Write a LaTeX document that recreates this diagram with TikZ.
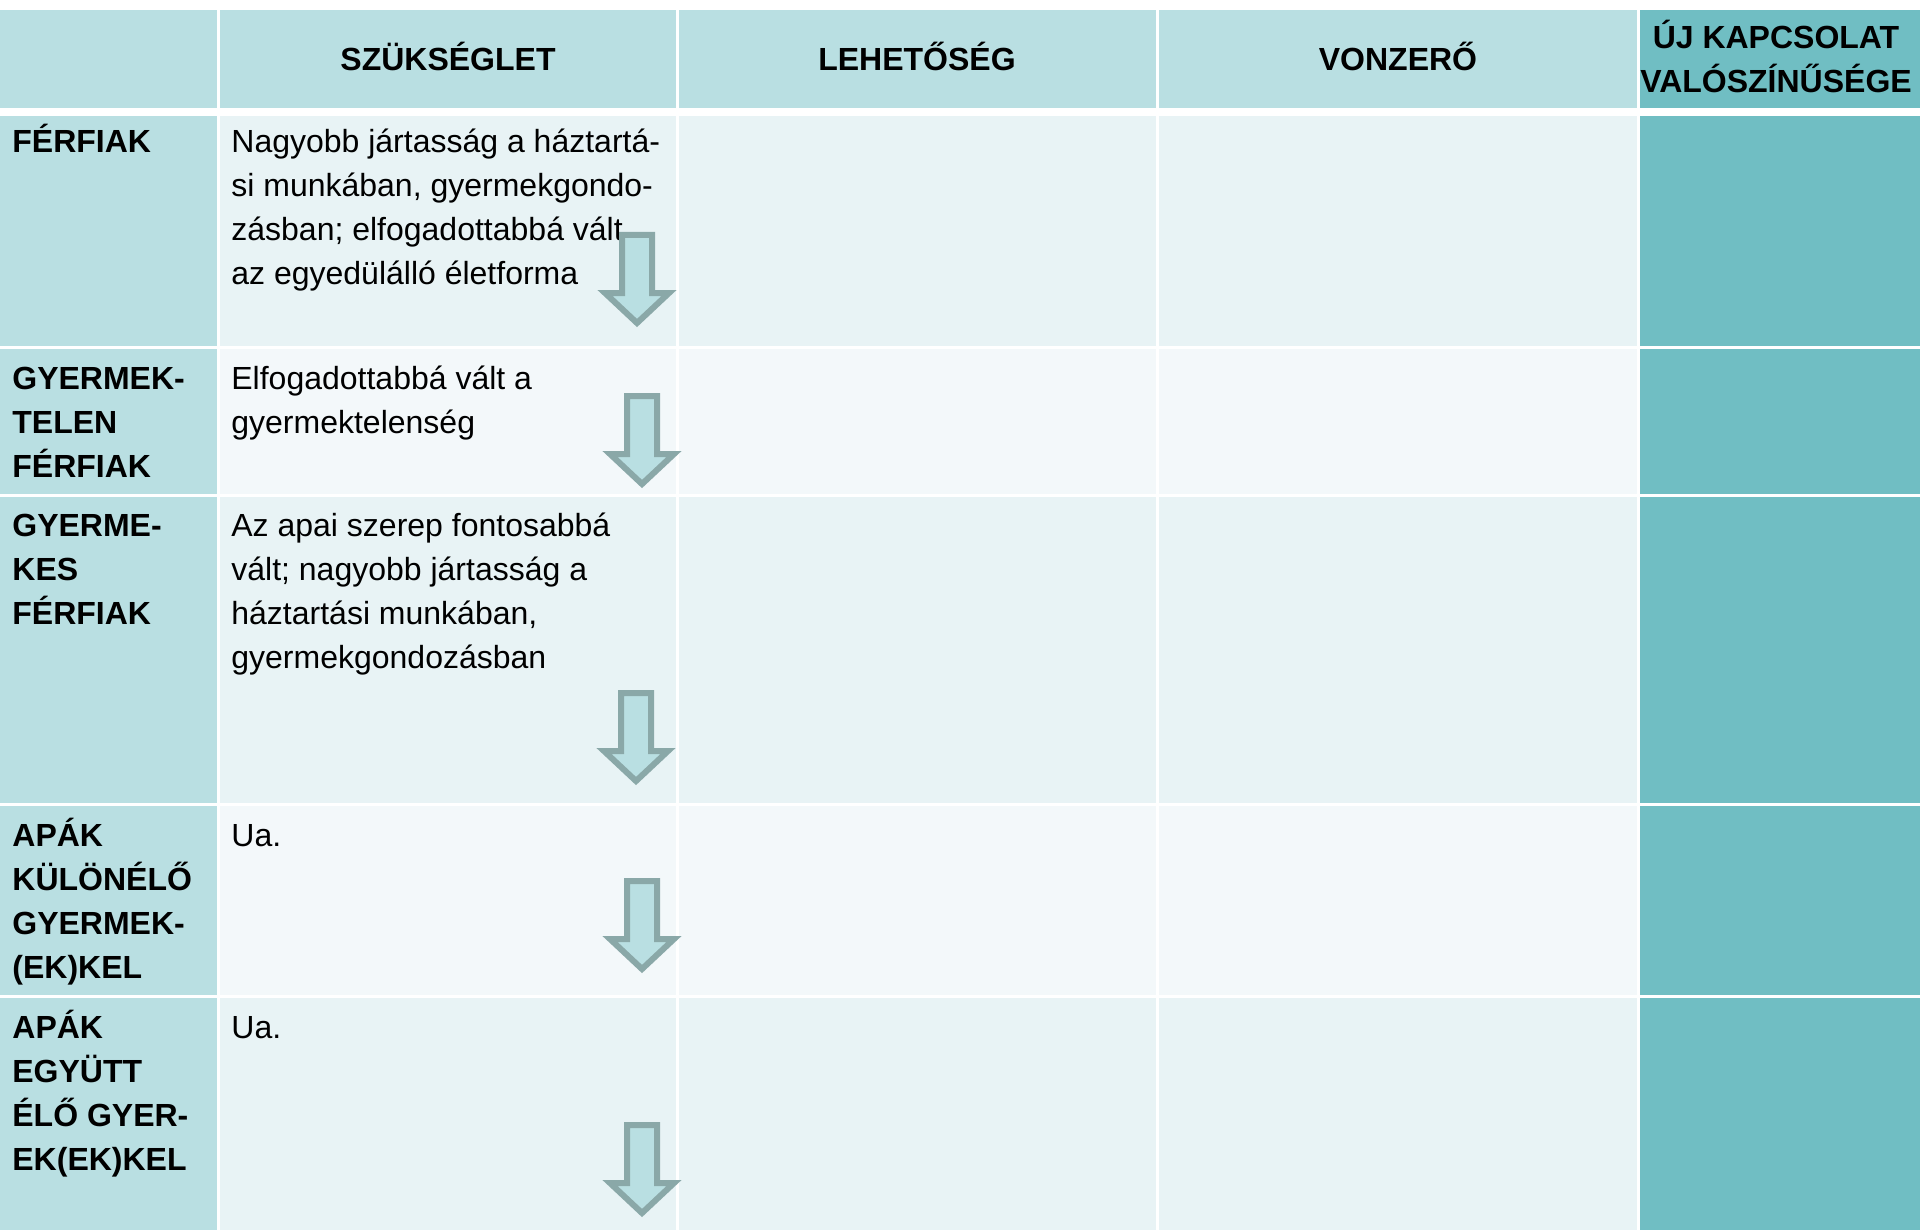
\documentclass[tikz,border=0pt]{standalone}
\usepackage{fontspec}
\setmainfont{Liberation Sans}
\definecolor{headfill}{HTML}{B9DFE2}
\definecolor{rowdark}{HTML}{E8F3F5}
\definecolor{rowlight}{HTML}{F3F8FA}
\definecolor{lastcol}{HTML}{70BEC3}
\definecolor{arrowedge}{HTML}{8AA8A8}
\newcommand{\cellrows}[2][l]{\begin{tabular}[t]{@{}#1@{}}#2\end{tabular}}

\begin{document}
\begin{tikzpicture}[x=0.5pt, y=-0.5pt,
    cell/.style={font=\fontsize{16}{22}\selectfont, anchor=base west, inner sep=0pt},
    rowhead/.style={cell, font=\fontsize{16}{22}\selectfont\bfseries},
    colhead/.style={font=\fontsize{16}{22}\selectfont\bfseries, anchor=base, inner sep=0pt},
    arrowline/.style={draw=arrowedge, fill=headfill, line width=3pt},
    downarrow/.pic={\path[arrowline] (-15,3) -- (15,3) -- (15,61) -- (32,61) -- (0,91) -- (-32,61) -- (-15,61) -- cycle;}
]
    \useasboundingbox (0,0) rectangle (1920,1230);

    % Header row
    \fill[headfill] (0,10) rectangle (217,108);
    \fill[headfill] (220,10) rectangle (676,108);
    \fill[headfill] (679,10) rectangle (1156,108);
    \fill[headfill] (1159,10) rectangle (1637,108);
    \fill[lastcol] (1640,10) rectangle (1920,108);

    % Body cells
    \fill[headfill] (0,116) rectangle (217,346);
    \fill[rowdark] (220,116) rectangle (676,346);
    \fill[rowdark] (679,116) rectangle (1156,346);
    \fill[rowdark] (1159,116) rectangle (1637,346);
    \fill[lastcol] (1640,116) rectangle (1920,346);

    \fill[headfill] (0,349) rectangle (217,494);
    \fill[rowlight] (220,349) rectangle (676,494);
    \fill[rowlight] (679,349) rectangle (1156,494);
    \fill[rowlight] (1159,349) rectangle (1637,494);
    \fill[lastcol] (1640,349) rectangle (1920,494);

    \fill[headfill] (0,497) rectangle (217,803);
    \fill[rowdark] (220,497) rectangle (676,803);
    \fill[rowdark] (679,497) rectangle (1156,803);
    \fill[rowdark] (1159,497) rectangle (1637,803);
    \fill[lastcol] (1640,497) rectangle (1920,803);

    \fill[headfill] (0,806) rectangle (217,995);
    \fill[rowlight] (220,806) rectangle (676,995);
    \fill[rowlight] (679,806) rectangle (1156,995);
    \fill[rowlight] (1159,806) rectangle (1637,995);
    \fill[lastcol] (1640,806) rectangle (1920,995);

    \fill[headfill] (0,998) rectangle (217,1230);
    \fill[rowdark] (220,998) rectangle (676,1230);
    \fill[rowdark] (679,998) rectangle (1156,1230);
    \fill[rowdark] (1159,998) rectangle (1637,1230);
    \fill[lastcol] (1640,998) rectangle (1920,1230);

    % Column titles
    \node[colhead] (szukseglet) at (448,71) {SZÜKSÉGLET};
    \node[colhead] (lehetoseg) at (917,71) {LEHETŐSÉG};
    \node[colhead] (vonzero) at (1398,71) {VONZERŐ};
    \node[colhead] (valoszinuseg) at (1776,49) {\cellrows[c]{ÚJ KAPCSOLAT\\VALÓSZÍNŰSÉGE}};

    % Row titles
    \node[rowhead] (ferfiak) at (12,153) {FÉRFIAK};
    \node[rowhead] (gyermektelen) at (12,389) {\cellrows{GYERMEK-\\TELEN\\FÉRFIAK}};
    \node[rowhead] (gyermekes) at (12,536) {\cellrows{GYERME-\\KES\\FÉRFIAK}};
    \node[rowhead] (kulonelo) at (12,846) {\cellrows{APÁK\\KÜLÖNÉLŐ\\GYERMEK-\\(EK)KEL}};
    \node[rowhead] (egyutt) at (12,1038) {\cellrows{APÁK\\EGYÜTT\\ÉLŐ GYER-\\EK(EK)KEL}};

    % Needs column
    \node[cell] (ferfiak_sz) at (231,153) {\cellrows{Nagyobb jártasság a háztartá-\\si munkában, gyermekgondo-\\zásban; elfogadottabbá vált\\az egyedülálló életforma}};
    \node[cell] (gyermektelen_sz) at (231,389) {\cellrows{Elfogadottabbá vált a\\gyermektelenség}};
    \node[cell] (gyermekes_sz) at (231,536) {\cellrows{Az apai szerep fontosabbá\\vált; nagyobb jártasság a\\háztartási munkában,\\gyermekgondozásban}};
    \node[cell] (kulonelo_sz) at (231,846) {Ua.};
    \node[cell] (egyutt_sz) at (231,1038) {Ua.};

    % Decrease arrows
    \pic (arrow1) at (637,232) {downarrow};
    \pic (arrow2) at (642,393) {downarrow};
    \pic (arrow3) at (636,690) {downarrow};
    \pic (arrow4) at (642,878) {downarrow};
    \pic (arrow5) at (642,1122) {downarrow};
\end{tikzpicture}
\end{document}
